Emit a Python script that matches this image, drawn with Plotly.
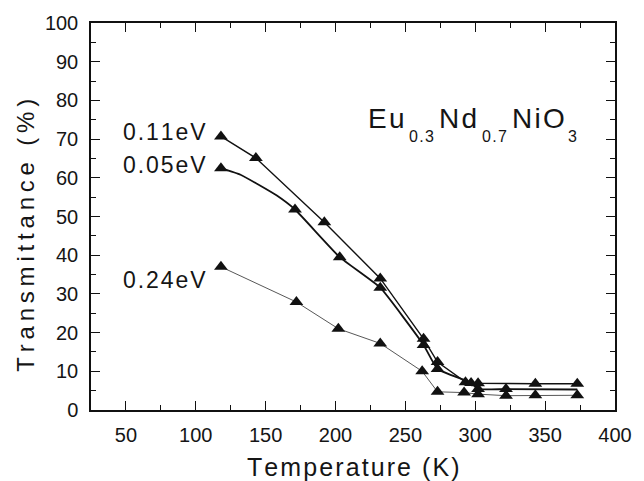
import plotly.graph_objects as go

# Transmittance vs temperature for Eu0.3Nd0.7NiO3 at three photon energies
t_011 = [118, 143, 192, 232, 263, 273, 293, 302, 343, 373]
v_011 = [70.7, 65.1, 48.5, 34.0, 18.4, 12.4, 7.2, 6.9, 6.8, 6.8]

t_005 = [118, 132, 145, 158, 171, 203, 232, 263, 273, 297, 302, 322, 373]
v_005 = [62.5, 60.8, 58.2, 55.4, 51.8, 39.5, 31.6, 16.8, 10.6, 7.0, 5.4, 5.4, 5.3]

t_024 = [118, 172, 202, 232, 262, 273, 292, 302, 322, 343, 373]
v_024 = [37.0, 27.9, 21.0, 17.2, 10.0, 4.7, 4.5, 4.1, 3.7, 3.8, 3.8]

# marker positions (subset of the sampled curves)
mk_005 = [118, 171, 203, 232, 263, 273, 297, 302, 322]
mk_024 = [118, 172, 202, 232, 262, 273, 292, 302, 322, 343, 373]

x_ticks = [50, 100, 150, 200, 250, 300, 350, 400]
y_ticks = [0, 10, 20, 30, 40, 50, 60, 70, 80, 90, 100]

FONT = "Liberation Sans, Arial, sans-serif"
INK = "#151515"

W, H = 644, 481
L, R, T, B = 91, 17, 18, 71
PW, PH = W - L - R, H - T - B


def px(x):
    return (x - L) / PW


def py(y):
    return (H - B - y) / PH


def vals(ts, vs, keep):
    d = dict(zip(ts, vs))
    return [t for t in keep], [d[t] for t in keep]


MK = dict(symbol="triangle-up", size=12, color="#111")

fig = go.Figure()

# 0.11 eV
fig.add_trace(go.Scatter(x=t_011, y=v_011, mode="lines+markers",
                         line=dict(color="#111", width=1.4),
                         marker=MK, showlegend=False))
# 0.05 eV
fig.add_trace(go.Scatter(x=t_005, y=v_005, mode="lines",
                         line=dict(color="#111", width=1.8, shape="spline", smoothing=0.4),
                         showlegend=False))
mx, my = vals(t_005, v_005, mk_005)
fig.add_trace(go.Scatter(x=mx, y=my, mode="markers", marker=MK, showlegend=False))
# 0.24 eV
fig.add_trace(go.Scatter(x=t_024, y=v_024, mode="lines",
                         line=dict(color="#444", width=0.9),
                         showlegend=False))
mx, my = vals(t_024, v_024, mk_024)
fig.add_trace(go.Scatter(x=mx, y=my, mode="markers", marker=MK, showlegend=False))

axis_common = dict(
    showline=True, linecolor="#111", linewidth=1.5, mirror="ticks",
    ticks="inside", ticklen=9, tickwidth=1.3, tickcolor="#111",
    showgrid=False, zeroline=False,
    tickfont=dict(family=FONT, size=20, color=INK),
)

fig.update_xaxes(range=[25, 400], tickvals=x_ticks,
                 minor=dict(dtick=25, tick0=0, ticks="inside", ticklen=5,
                            tickwidth=1.2, tickcolor="#111", showgrid=False),
                 ticklabelstandoff=6, **axis_common)
fig.update_yaxes(range=[0, 100], tickvals=y_ticks,
                 minor=dict(dtick=5, tick0=0, ticks="inside", ticklen=5,
                            tickwidth=1.2, tickcolor="#111", showgrid=False),
                 ticklabelstandoff=7, **axis_common)

ann = []
TS = "\u2009"
HS = "\u200a"

ann.append(dict(x=px(359), y=py(468), xref="paper", yref="paper",
                text=HS.join("Temperature (K)"), showarrow=False,
                font=dict(family=FONT, size=25, color=INK),
                xanchor="center", yanchor="middle"))
ann.append(dict(x=px(24), y=py(233), xref="paper", yref="paper",
                text=TS.join("Transmittance (%)"), showarrow=False, textangle=-90,
                font=dict(family=FONT, size=24, color=INK),
                xanchor="center", yanchor="middle"))

for label, yc in [("0.11eV", 128), ("0.05eV", 162), ("0.24eV", 278)]:
    ann.append(dict(x=px(122), y=py(yc), xref="paper", yref="paper",
                    text=HS.join(label), showarrow=False,
                    font=dict(family=FONT, size=23, color=INK),
                    xanchor="left", yanchor="middle"))

# compound formula with lowered subscripts
parts = [("Eu", 372, 115, 28), ("0.3", 414, 133, 16), ("Nd", 445, 115, 28),
         ("0.7", 489, 133, 16), ("NiO", 520, 115, 28), ("3", 577, 133, 16)]
for txt, xl, yc, fs in parts:
    ann.append(dict(x=px(xl), y=py(yc), xref="paper", yref="paper",
                    text=HS.join(txt), showarrow=False,
                    font=dict(family=FONT, size=fs, color=INK),
                    xanchor="left", yanchor="middle"))

fig.update_layout(width=W, height=H,
                  margin=dict(l=L, r=R, t=T, b=B, pad=0),
                  paper_bgcolor="white", plot_bgcolor="white",
                  annotations=ann)

fig.write_html("out.html")
